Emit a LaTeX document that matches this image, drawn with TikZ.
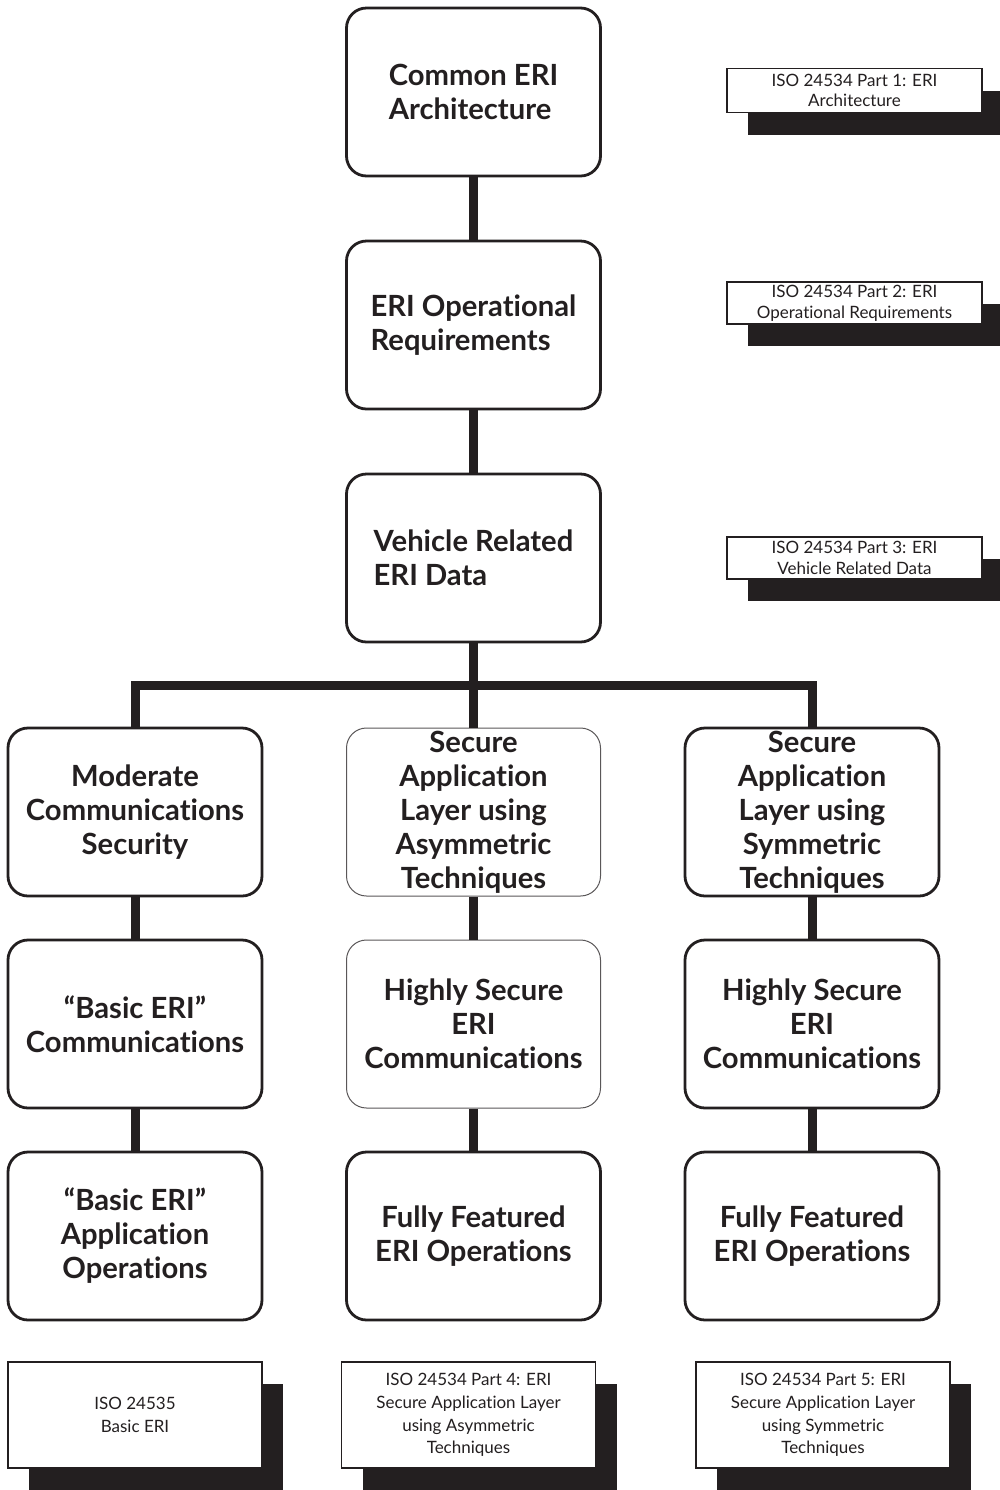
\documentclass[tikz,border=0pt]{standalone}
\usepackage{fontspec}
\setmainfont{Lato}[Ligatures={NoCommon}]
\usetikzlibrary{shadows}
\definecolor{ink}{RGB}{35,31,32}
\tikzset{
  box/.style={draw=ink, line width=1.4pt, rounded corners=10pt, fill=white,
    minimum width=127pt, minimum height=84pt, inner sep=0pt,
    align=center, text=ink, font=\fontsize{14.6}{17}\selectfont\bfseries},
  thinbox/.style={box, draw=ink!75, line width=0.5pt},
  lbox/.style={box, align=left},
  conn/.style={draw=ink, line width=4.5pt, line join=miter},
  tag/.style={draw=ink, line width=0.9pt, fill=white, text=ink,
    minimum width=127.5pt, inner sep=0pt, align=center,
    font=\fontsize{8.5}{10.3}\selectfont,
    drop shadow={shadow xshift=10.5pt, shadow yshift=-11pt, fill=ink, opacity=1}},
  btag/.style={tag, minimum width=127pt, minimum height=53pt, font=\fontsize{8.5}{11.4}\selectfont}
}
\begin{document}
\begin{tikzpicture}[x=0.5pt, y=-0.5pt]
\useasboundingbox (0,0) rectangle (1000,1490);
% main column
\node[lbox] (arch) at (473.5,92) {Common ERI\\Architecture};
\node[lbox] (ops)  at (473.5,325) {ERI Operational\\Requirements};
\node[lbox] (vrd)  at (473.5,558) {Vehicle Related\\ERI Data};
% row 1
\node[box] (mod)  at (135,812) {Moderate\\Communications\\Security};
\node[thinbox] (asym) at (473.5,812) {Secure\\Application\\Layer using\\Asymmetric\\Techniques};
\node[box] (symm) at (812,812) {Secure\\Application\\Layer using\\Symmetric\\Techniques};
% row 2
\node[box] (bcom) at (135,1024) {“Basic ERI”\\Communications};
\node[thinbox] (hsa) at (473.5,1024) {Highly Secure\\ERI\\Communications};
\node[box] (hss) at (812,1024) {Highly Secure\\ERI\\Communications};
% row 3
\node[box] (bapp) at (135,1236) {“Basic ERI”\\Application\\Operations};
\node[box] (ffa) at (473.5,1236) {Fully Featured\\ERI Operations};
\node[box] (ffs) at (812,1236) {Fully Featured\\ERI Operations};
% connectors
\coordinate (busL) at (135,685);
\coordinate (busR) at (812,685);
\draw[conn] (arch.south) -- (ops.north);
\draw[conn] (ops.south) -- (vrd.north);
\draw[conn] (vrd.south) -- (asym.north);
\draw[conn] (mod.north) -- (busL) -- (busR) -- (symm.north);
\draw[conn] (mod.south) -- (bcom.north);
\draw[conn] (bcom.south) -- (bapp.north);
\draw[conn] (asym.south) -- (hsa.north);
\draw[conn] (hsa.south) -- (ffa.north);
\draw[conn] (symm.south) -- (hss.north);
\draw[conn] (hss.south) -- (ffs.north);
% standards tags
\node[tag, minimum height=22pt] (t1) at (854.5,90.5) {ISO 24534 Part 1: ERI\\Architecture};
\node[tag, minimum height=21pt] (t2) at (854.5,303) {ISO 24534 Part 2: ERI\\Operational Requirements};
\node[tag, minimum height=21pt] (t3) at (854.5,558) {ISO 24534 Part 3: ERI\\Vehicle Related Data};
\node[btag] (t4) at (135,1415) {ISO 24535\\Basic ERI};
\node[btag] (t5) at (468.5,1415) {ISO 24534 Part 4: ERI\\Secure Application Layer\\using Asymmetric\\Techniques};
\node[btag] (t6) at (823,1415) {ISO 24534 Part 5: ERI\\Secure Application Layer\\using Symmetric\\Techniques};
\end{tikzpicture}
\end{document}
